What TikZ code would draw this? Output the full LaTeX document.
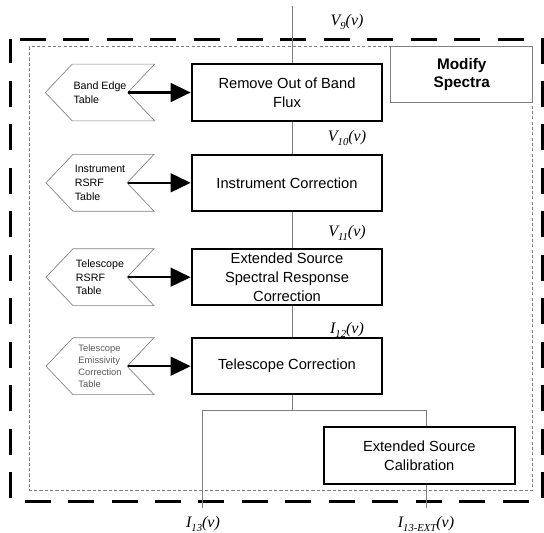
\documentclass[tikz,border=0pt]{standalone}
\usepackage{fontspec}
\setmainfont{Liberation Sans}
\newfontfamily\serifit{Liberation Serif}
\usetikzlibrary{arrows.meta,shapes.symbols}

\newcommand{\sig}[2]{{\serifit\itshape #1\raisebox{-0.55ex}{\fontsize{8}{8}\selectfont #2}(v)}}

\tikzset{every picture/.style={line width=0.75pt}}
\tikzset{
  procbox/.style={draw=black, line width=1.5pt, minimum width=143pt, minimum height=42.4pt,
    align=center, inner sep=2pt, font=\fontsize{11}{14.2}\selectfont},
  tablebox/.style={shape=signal, signal to=west, signal from=east, signal pointer angle=93,
    draw=gray, line width=0.5pt, minimum width=81pt, minimum height=42.6pt, align=left,
    inner sep=1pt, font=\fontsize{8}{10.4}\selectfont},
  titlebox/.style={draw=gray, line width=0.6pt, minimum width=106.5pt, minimum height=41.7pt,
    align=center, font=\bfseries\fontsize{11.5}{14.2}\selectfont},
  wire/.style={draw=gray, line width=0.6pt},
  feed/.style={draw=black, line width=1.9pt, -{Triangle[length=15pt,width=14pt]}},
  siglabel/.style={inner sep=0pt, font=\fontsize{12}{12}\selectfont}
}

\begin{document}
\begin{tikzpicture}[x=0.75pt,y=0.75pt,yscale=-1,xscale=1]
\useasboundingbox (0,0) rectangle (544,533);

%Shape: Rectangle [outer frame]
\draw [line width=2.25pt, dash pattern=on 19.5pt off 13.1pt, dash phase=25.9pt] (10.7,39) -- (542.7,39) -- (542.7,501.7) -- (10.7,501.7) -- cycle ;
%Shape: Rectangle [inner frame]
\draw [color=gray, line width=0.5pt, dash pattern=on 2.4pt off 1.6pt] (29.3,46.7) rectangle (532.7,490) ;

% Title
\node [titlebox] (title) at (461.7,74.5) {Modify\\Spectra};

% Process boxes
\node [procbox] (flux) at (287,92.5) {Remove Out of Band\\Flux};
\node [procbox] (inst) at (287,182.8) {Instrument Correction};
\node [procbox] (ext) at (287,277.2) {Extended Source\\Spectral Response\\Correction};
\node [procbox] (tele) at (287,366.2) {Telescope Correction};
\node [procbox] (cal) at (419.3,455.7) {Extended Source\\Calibration};

% Tables
\node [tablebox] (bandtab) at (100,92.5) {Band Edge\\Table};
\node [tablebox] (insttab) at (100,182.8) {Instrument\\RSRF\\Table};
\node [tablebox] (teletab) at (100,277.2) {Telescope\\RSRF\\Table};
\node [tablebox, text=black!65, font=\fontsize{7}{8.8}\selectfont] (emistab) at (100,366.2) {Telescope\\Emissivity\\Correction\\Table};

%Straight Lines [table inputs]
\draw [feed] (bandtab.east) -- (flux.west) ;
\draw [feed] (insttab.east) -- (inst.west) ;
\draw [feed] (teletab.east) -- (ext.west) ;
\draw [feed] (emistab.east) -- (tele.west) ;

% Signal path
\coordinate (in) at (292.7,6);
\coordinate (split) at (292.7,410.7);
\coordinate (out1) at (202.7,508);
\coordinate (out2) at (426,508);

\draw [wire] (in) -- (in |- flux.north) ;
\draw [wire] (flux.south -| in) -- (inst.north -| in) ;
\draw [wire] (inst.south -| in) -- (ext.north -| in) ;
\draw [wire] (ext.south -| in) -- (tele.north -| in) ;
\draw [wire] (tele.south -| in) -- (split) ;
\draw [wire] (out1) |- (split) -| (cal.north -| out2) ;
\draw [wire] (cal.south -| out2) -- (out2) ;

% Text Node
\node [siglabel] (v9) at (347,22) {\sig{V}{9}};
\node [siglabel] (v10) at (347,138) {\sig{V}{10}};
\node [siglabel] (v11) at (347,233) {\sig{V}{11}};
\node [siglabel] (i12) at (347,330) {\sig{I}{12}};
\node [siglabel] (i13) at (203,524) {\sig{I}{13}};
\node [siglabel] (i13x) at (426,524) {\sig{I}{13-EXT}};

\end{tikzpicture}
\end{document}
